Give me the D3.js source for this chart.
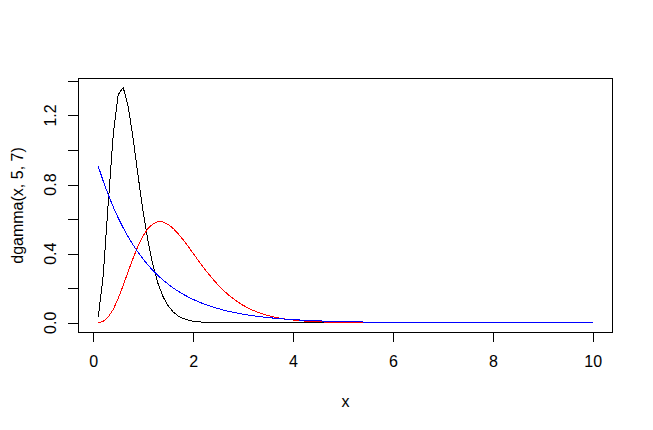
<!DOCTYPE html>
<html>
<head>
<meta charset="utf-8">
<script src="https://cdn.jsdelivr.net/npm/d3@7"></script>
<style>
  html, body { margin: 0; padding: 0; background: #fff; }
  svg text { font-family: "Liberation Sans", Arial, sans-serif; font-size: 16px; fill: #000; }
</style>
</head>
<body>
<svg id="chart" width="653" height="430"></svg>
<script>
// x grid of the curves
const xValues = [
  0.1,0.2,0.3,0.4,0.5,0.6,0.7,0.8,0.9,1.0,
  1.1,1.2,1.3,1.4,1.5,1.6,1.7,1.8,1.9,2.0,
  2.1,2.2,2.3,2.4,2.5,2.6,2.7,2.8,2.9,3.0,
  3.1,3.2,3.3,3.4,3.5,3.6,3.7,3.8,3.9,4.0,
  4.1,4.2,4.3,4.4,4.5,4.6,4.7,4.8,4.9,5.0,
  5.1,5.2,5.3,5.4,5.5,5.6,5.7,5.8,5.9,6.0,
  6.1,6.2,6.3,6.4,6.5,6.6,6.7,6.8,6.9,7.0,
  7.1,7.2,7.3,7.4,7.5,7.6,7.7,7.8,7.9,8.0,
  8.1,8.2,8.3,8.4,8.5,8.6,8.7,8.8,8.9,9.0,
  9.1,9.2,9.3,9.4,9.5,9.6,9.7,9.8,9.9,10.0
];
// black series
const blackValues = [
  0.0348,0.2763,0.6946,1.0902,1.3217,1.3610,1.2521,1.0607,0.8437,0.6386,
  0.4643,0.3265,0.2234,0.1492,0.0976,0.0628,0.0397,0.0248,0.0153,0.0093,
  0.0056,0.0034,0.0020,0.0012,0.0007,0.0004,0.0002,0.0001,0.0001,0.0000,
  0,0,0,0,0,0,0,0,0,0,
  0,0,0,0,0,0,0,0,0,0,
  0,0,0,0,0,0,0,0,0,0,
  0,0,0,0,0,0,0,0,0,0,
  0,0,0,0,0,0,0,0,0,0,
  0,0,0,0,0,0,0,0,0,0,
  0,0,0,0,0,0,0,0,0,0
];
// red series
const redValues = [
  0.0008,0.0089,0.0333,0.0781,0.1412,0.2169,0.2977,0.3762,0.4465,0.5041,
  0.5468,0.5737,0.5854,0.5833,0.5694,0.5461,0.5156,0.4801,0.4415,0.4016,
  0.3616,0.3227,0.2856,0.2508,0.2188,0.1896,0.1633,0.1399,0.1193,0.1012,
  0.0855,0.0719,0.0603,0.0503,0.0418,0.0347,0.0287,0.0236,0.0194,0.0159,
  0.0130,0.0106,0.0087,0.0070,0.0057,0.0046,0.0037,0.0030,0.0024,0.0019,
  0.0016,0.0012,0.0010,0.0008,0.0006,0.0005,0.0004,0.0003,0.0003,0.0002,
  0.0002,0.0001,0.0001,0.0001,0.0001,0,0,0,0,0,
  0,0,0,0,0,0,0,0,0,0,
  0,0,0,0,0,0,0,0,0,0,
  0,0,0,0,0,0,0,0,0,0
];
// blue series
const blueValues = [
  0.9048,0.8187,0.7408,0.6703,0.6065,0.5488,0.4966,0.4493,0.4066,0.3679,
  0.3329,0.3012,0.2725,0.2466,0.2231,0.2019,0.1827,0.1653,0.1496,0.1353,
  0.1225,0.1108,0.1003,0.0907,0.0821,0.0743,0.0672,0.0608,0.0550,0.0498,
  0.0450,0.0408,0.0369,0.0334,0.0302,0.0273,0.0247,0.0224,0.0202,0.0183,
  0.0166,0.0150,0.0136,0.0123,0.0111,0.0101,0.0091,0.0082,0.0074,0.0067,
  0.0061,0.0055,0.0050,0.0045,0.0041,0.0037,0.0033,0.0030,0.0027,0.0025,
  0.0022,0.0020,0.0018,0.0017,0.0015,0.0014,0.0012,0.0011,0.0010,0.0009,
  0.0008,0.0007,0.0007,0.0006,0.0006,0.0005,0.0005,0.0004,0.0004,0.0003,
  0.0003,0.0003,0.0002,0.0002,0.0002,0.0002,0.0002,0.0002,0.0001,0.0001,
  0.0001,0.0001,0.0001,0.0001,0.0001,0.0001,0.0001,0.0001,0.0001,0.0000
];
const xTicks = [0, 2, 4, 6, 8, 10];
const xTickLabels = ["0", "2", "4", "6", "8", "10"];
const yTicks = [0, 0.2, 0.4, 0.6, 0.8, 1.0, 1.2, 1.4];
const yTickLabelValues = [0, 0.4, 0.8, 1.2];
const yTickLabels = ["0.0", "0.4", "0.8", "1.2"];
const xTitle = "x";
const yTitle = "dgamma(x, 5, 7)";

const svg = d3.select("#chart");
const pLeft = 78.5, pRight = 612.5, pTop = 78.5, pBottom = 332.5;

const x = d3.scaleLinear().domain([-0.296, 10.396]).range([pLeft, pRight]);
const y = d3.scaleLinear().domain([-0.05444, 1.41544]).range([332.2, 78.2]);

const line = d3.line().x(d => x(d[0])).y(d => y(d[1]));

const series = [
  { values: blackValues, color: "#000000" },
  { values: redValues, color: "#ff0000" },
  { values: blueValues, color: "#0000ff" }
];
series.forEach(s => {
  svg.append("path")
    .datum(xValues.map((xv, i) => [xv, s.values[i]]))
    .attr("d", line)
    .attr("fill", "none")
    .attr("stroke", s.color)
    .attr("stroke-width", 1)
    .attr("shape-rendering", "crispEdges");
});

// box
svg.append("rect")
  .attr("x", pLeft).attr("y", pTop)
  .attr("width", pRight - pLeft).attr("height", pBottom - pTop)
  .attr("fill", "none").attr("stroke", "#000").attr("stroke-width", 1)
  .attr("shape-rendering", "crispEdges");

// x axis
const xAxis = d3.axisBottom(x).tickValues(xTicks).tickSize(10).tickSizeOuter(0)
  .tickFormat((d, i) => xTickLabels[i]);
const gx = svg.append("g").attr("transform", `translate(0,${pBottom - 0.5})`).call(xAxis);
gx.select(".domain").remove();
gx.selectAll("line").attr("stroke", "#000").attr("shape-rendering", "crispEdges");
gx.selectAll("text")
  .attr("y", null).attr("dy", null)
  .attr("transform", "translate(0,34.5)")
  .attr("fill", "#000")
  .style("font-family", '"Liberation Sans", Arial, sans-serif')
  .style("font-size", "16px");

// y axis
const yAxis = d3.axisLeft(y).tickValues(yTicks).tickSize(10).tickSizeOuter(0).tickFormat("");
const gy = svg.append("g").attr("transform", `translate(${pLeft - 0.5},0)`).call(yAxis);
gy.select(".domain").remove();
gy.selectAll("line").attr("stroke", "#000").attr("shape-rendering", "crispEdges");

svg.append("g").selectAll("text")
  .data(yTickLabelValues)
  .join("text")
  .attr("transform", d => `translate(56,${y(d)}) rotate(-90)`)
  .attr("text-anchor", "middle")
  .text((d, i) => yTickLabels[i]);

// titles
svg.append("text")
  .attr("x", (pLeft + pRight) / 2).attr("y", 406.5)
  .attr("text-anchor", "middle")
  .text(xTitle);
svg.append("text")
  .attr("transform", `translate(23,${(pTop + pBottom) / 2}) rotate(-90)`)
  .attr("text-anchor", "middle")
  .text(yTitle);
</script>
</body>
</html>
